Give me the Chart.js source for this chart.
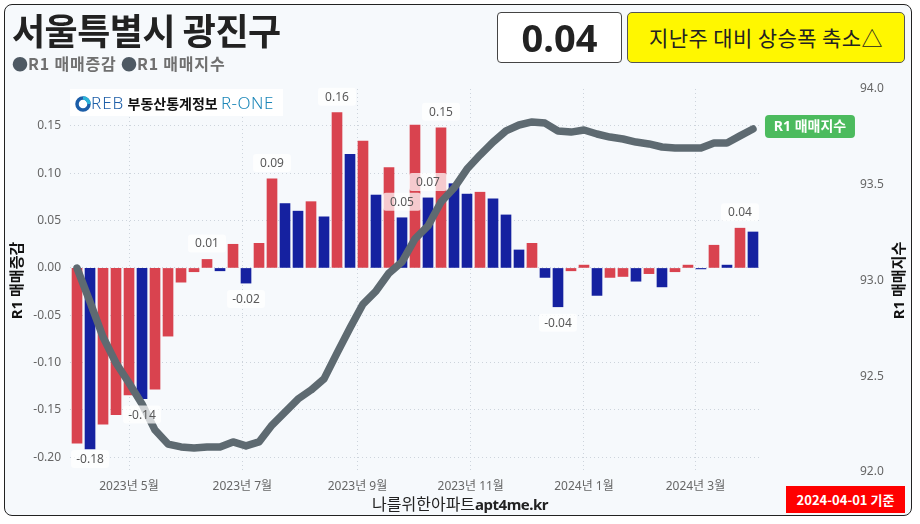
<!DOCTYPE html>
<html>
<head>
<meta charset="utf-8">
<script src="https://cdn.jsdelivr.net/npm/chart.js@4.4.1/dist/chart.umd.min.js"></script>
<style>
  body { margin: 0; background: #fff; font-family: "Noto Sans", "Noto Sans CJK KR", sans-serif; }
  #wrap { position: relative; width: 920px; height: 524px; overflow: hidden; }
  #card { position: absolute; left: 4px; top: 4px; width: 906px; height: 510px; border: 1.5px solid #222; border-radius: 8px; background: #f6f9fc; }
  #chart { position: absolute; left: 0; top: 0; }
  .abs { position: absolute; white-space: nowrap; }
  #title { left: 12px; top: 11px; font: bold 36px/1 "Noto Sans CJK KR"; letter-spacing: -0.5px; color: #222; }
  #legend { left: 12px; top: 55px; font: bold 16px/1.1 "Noto Sans CJK KR"; color: #707070; letter-spacing: 0.8px; }
  #legend b { color: #4e5963; letter-spacing: 0; }
  #valbox { left: 497px; top: 12px; width: 123px; height: 49px; border: 1px solid #444; border-radius: 4px; background: #fff;
            font: bold 38px/49px "Noto Sans"; color: #222; text-align: center; }
  #msgbox { left: 627px; top: 12px; width: 276px; height: 49px; border: 1px solid #555; border-radius: 5px; background: #fff700;
            font: 21px/49px "Noto Sans CJK KR"; letter-spacing: 0.4px; color: #222; text-align: center; }
  #logo { left: 70px; top: 89px; width: 213px; height: 27px; background: #fff; font: bold 14px/27px "Noto Sans CJK KR"; color: #111; }
  #logo .reb { color: #1d5ea8; font: 300 17px/27px "Noto Sans"; letter-spacing: 1px; }
  #logo .rone { color: #1a86b8; font: 300 17px/27px "Noto Sans"; letter-spacing: 0.5px; }
  #footer { left: 0; width: 920px; top: 494px; text-align: center; font: 16px/1.2 "Noto Sans CJK KR"; color: #222; }
  #footer b { font: bold 15px "Noto Sans"; letter-spacing: -0.5px; }
  #datebox { left: 786px; top: 486px; width: 119px; height: 27px; background: #ff0000; color: #fff; font: bold 13px/27px "Noto Sans CJK KR"; text-align: center; }
</style>
</head>
<body>
<div id="wrap">
  <div id="card"></div>
  <canvas id="chart" width="920" height="524"></canvas>
  <div class="abs" id="title">서울특별시 광진구</div>
  <div class="abs" id="legend"><b>●</b>R1 매매증감 <b>●</b>R1 매매지수</div>
  <div class="abs" id="valbox"></div>
  <div class="abs" id="msgbox">지난주 대비 상승폭 축소△</div>
  <div class="abs" id="logo">
    <svg width="16" height="16" viewBox="0 0 16 16" style="vertical-align:-3px;margin-left:5px">
      <circle cx="8" cy="8" r="6" fill="none" stroke="#1d5ea8" stroke-width="3.5"/>
      <path d="M8 2 A6 6 0 0 1 14 8" fill="none" stroke="#2bb3d9" stroke-width="3.5"/>
    </svg><span class="reb">REB</span> 부동산통계정보 <span class="rone">R-ONE</span>
  </div>
  <div class="abs" id="footer">나를위한아파트<b>apt4me.kr</b></div>
  <div class="abs" id="datebox">2024-04-01 기준</div>
</div>

<script>
// weekly data, 2023-04-03 .. 2024-04-01
const startDate = "2023-04-03";
const weekCount = 53;

// R1 매매증감 (weekly change, %)
const changes = [
  -0.185, -0.191, -0.165, -0.155, -0.134, -0.138, -0.128, -0.072, -0.015, -0.004,
   0.009, -0.003,  0.025, -0.016,  0.026,  0.094,  0.068,  0.060,  0.070,  0.054,
   0.164,  0.120,  0.134,  0.077,  0.106,  0.053,  0.151,  0.074,  0.148,  0.089,
   0.078,  0.080,  0.073,  0.056,  0.019,  0.026, -0.010, -0.041, -0.003,  0.003,
  -0.029, -0.010, -0.009, -0.014, -0.006, -0.020, -0.004,  0.003, -0.001,  0.024,
   0.003,  0.042,  0.038
];

// R1 매매지수 (index)
const indexLine = [
  93.065, 92.888, 92.705, 92.569, 92.465, 92.355, 92.219, 92.146, 92.131, 92.125,
  92.131, 92.131, 92.157, 92.136, 92.157, 92.245, 92.313, 92.381, 92.428, 92.486,
  92.621, 92.752, 92.877, 92.945, 93.039, 93.097, 93.217, 93.285, 93.410, 93.483,
  93.582, 93.655, 93.723, 93.781, 93.812, 93.828, 93.822, 93.781, 93.775, 93.786,
  93.765, 93.749, 93.739, 93.723, 93.713, 93.697, 93.692, 93.692, 93.692, 93.718,
  93.718, 93.755, 93.791
];

// labelled bars
const tagIdx  = [1, 5, 10, 13, 15, 20, 25, 27, 28, 37, 51];
const tagText = ["-0.18", "-0.14", "0.01", "-0.02", "0.09", "0.16", "0.05", "0.07", "0.15", "-0.04", "0.04"];

const monthTicks = ["2023-05-01", "2023-07-01", "2023-09-01", "2023-11-01", "2024-01-01", "2024-03-01"];
const leftTicks = [-0.20, -0.15, -0.10, -0.05, 0.00, 0.05, 0.10, 0.15];
const rightTicks = [92.0, 92.5, 93.0, 93.5, 94.0];

const DAY = 86400000;
const t0 = Date.parse(startDate + "T00:00:00Z");
const weeks = Array.from({ length: weekCount }, (_, i) => new Date(t0 + i * 7 * DAY).toISOString().slice(0, 10));
const weekPos = d => (Date.parse(d + "T00:00:00Z") - t0) / (7 * DAY);

const RED = "#d9434f", BLUE = "#1521a0";
const barColors = changes.map((v, i) => (i === 0 || v >= changes[i - 1]) ? RED : BLUE);

document.getElementById("valbox").textContent = changes[changes.length - 1].toFixed(2);

const FONT = '"Noto Sans", "Noto Sans CJK KR", sans-serif';

const tagPlugin = {
  id: "tags",
  afterDatasetsDraw(chart) {
    const { ctx, chartArea } = chart;
    const bars = chart.getDatasetMeta(1).data;
    ctx.save();
    ctx.font = "12px " + FONT;
    ctx.textAlign = "center";
    ctx.textBaseline = "middle";
    tagIdx.forEach((idx, k) => {
      const el = bars[idx];
      let cy = changes[idx] >= 0 ? el.y - 16 : el.y + 16;
      cy = Math.min(cy, chartArea.bottom - 13);
      ctx.fillStyle = "rgba(255,255,255,0.72)";
      ctx.beginPath();
      ctx.roundRect(el.x - 19, cy - 9, 38, 18, 3);
      ctx.fill();
      ctx.fillStyle = "#595959";
      ctx.fillText(tagText[k], el.x, cy + 0.5);
    });

    // end-of-line tag
    const line = chart.getDatasetMeta(0).data;
    const p = line[line.length - 1];
    ctx.fillStyle = "#4cbb5e";
    ctx.beginPath();
    ctx.roundRect(p.x + 12, p.y - 14, 90, 23, 4);
    ctx.fill();
    ctx.fillStyle = "#fff";
    ctx.font = "bold 14px " + FONT;
    ctx.fillText("R1 매매지수", p.x + 57, p.y - 2);

    // right axis title (reads bottom to top)
    ctx.translate(900, (chartArea.top + chartArea.bottom) / 2);
    ctx.rotate(-Math.PI / 2);
    ctx.fillStyle = "#111";
    ctx.font = "bold 15px " + FONT;
    ctx.fillText("R1 매매지수", 0, 0);
    ctx.restore();
  }
};

new Chart(document.getElementById("chart"), {
  type: "bar",
  data: {
    datasets: [
      {
        type: "line",
        label: "R1 매매지수",
        data: indexLine.map((v, i) => ({ x: i, y: v })),
        yAxisID: "y1",
        borderColor: "#5e6a71",
        borderWidth: 7.5,
        borderCapStyle: "round",
        borderJoinStyle: "round",
        pointRadius: 0,
        tension: 0,
        order: 1
      },
      {
        label: "R1 매매증감",
        data: changes.map((v, i) => ({ x: i, y: v })),
        yAxisID: "y",
        backgroundColor: barColors,
        barThickness: 10,
        order: 2
      }
    ]
  },
  options: {
    responsive: false,
    animation: false,
    layout: { padding: { top: 89, left: 8, right: 8, bottom: 22 } },
    plugins: { legend: { display: false }, tooltip: { enabled: false } },
    scales: {
      x: {
        type: "linear",
        offset: false,
        min: -0.54,
        max: 52.54,
        afterBuildTicks: s => { s.ticks = monthTicks.map(d => ({ value: weekPos(d) })); },
        afterFit: s => { s.height = 30; },
        ticks: {
          padding: 7,
          color: "#666",
          font: { size: 12, family: FONT },
          maxRotation: 0,
          autoSkip: false,
          callback: v => {
            const d = new Date(t0 + Math.round(v * 7) * DAY);
            return d.getUTCFullYear() + "년 " + (d.getUTCMonth() + 1) + "월";
          }
        },
        grid: { color: "#cdd4dc", drawTicks: false, offset: false },
        border: { display: false, dash: [1, 3] }
      },
      y: {
        position: "left",
        min: -0.2155,
        max: 0.189,
        afterBuildTicks: s => { s.ticks = leftTicks.map(v => ({ value: v })); },
        afterFit: s => { s.width = 62; },
        ticks: { padding: 9, color: "#666", font: { size: 12, family: FONT }, callback: v => v.toFixed(2) },
        grid: { color: "#cdd4dc", drawTicks: false },
        border: { display: false, dash: [1, 3] },
        title: { display: true, text: "R1 매매증감", color: "#111", font: { size: 15, weight: "bold", family: FONT }, padding: { top: 1, bottom: 0 } }
      },
      y1: {
        position: "right",
        min: 92,
        max: 94,
        afterBuildTicks: s => { s.ticks = rightTicks.map(v => ({ value: v })); },
        afterFit: s => { s.width = 152; },
        ticks: { padding: 0, color: "#666", font: { size: 12, family: FONT }, callback: v => v.toFixed(1) },
        grid: { drawOnChartArea: false, drawTicks: true, tickLength: 100, tickColor: "rgba(0,0,0,0)" },
        border: { display: false }
      }
    }
  },
  plugins: [tagPlugin]
});
</script>
</body>
</html>
